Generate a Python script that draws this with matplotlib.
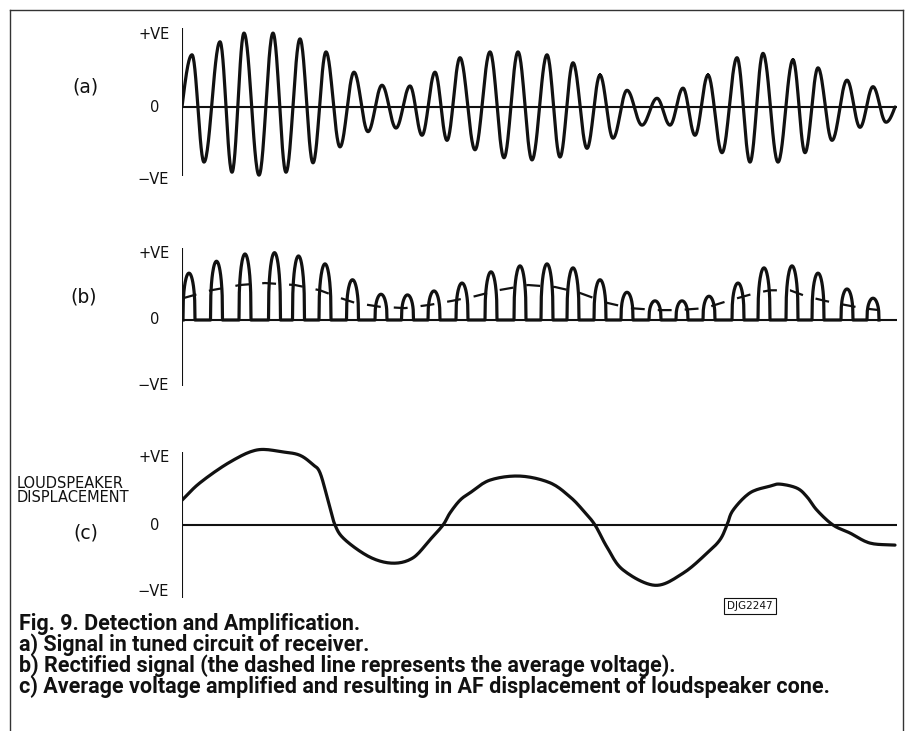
import numpy as np
import matplotlib
matplotlib.use("Agg")
import matplotlib.pyplot as plt
from matplotlib import font_manager
from matplotlib.lines import Line2D

W, H = 909, 731

# (a) signal in tuned circuit: times of the turning points and voltage (VE units)
a_time = [0, 10, 22, 38, 50, 62, 77, 91, 104, 118, 131, 144, 158, 172, 186, 200,
          214, 228, 240, 253, 265, 278, 293, 308, 322, 336, 350, 365, 378, 391,
          405, 418, 431, 445, 460, 475, 488, 501, 513, 526, 540, 555, 568, 581,
          596, 611, 623, 636, 650, 665, 678, 691, 704, 713]
a_volt = [0, 0.72, -0.76, 0.90, -0.90, 1.02, -0.94, 1.02, -0.90, 0.94, -0.77,
          0.76, -0.55, 0.48, -0.34, 0.30, -0.29, 0.29, -0.39, 0.48, -0.46, 0.68,
          -0.59, 0.76, -0.70, 0.76, -0.73, 0.72, -0.69, 0.61, -0.57, 0.44, -0.43,
          0.23, -0.25, 0.12, -0.25, 0.26, -0.39, 0.44, -0.63, 0.68, -0.76, 0.74,
          -0.76, 0.65, -0.63, 0.54, -0.46, 0.37, -0.28, 0.28, -0.21, 0]

# (b) rectified pulses: centre time and height
b_time = [7, 34.5, 63, 92.5, 116.5, 143, 170.5, 199, 225.5, 252, 280, 309, 338,
          365, 391, 418, 445, 473, 500, 527, 556, 582, 610, 636, 665, 691]
b_peak = [0.71, 0.89, 1.00, 1.02, 0.97, 0.85, 0.61, 0.39, 0.38, 0.44, 0.56, 0.73,
          0.82, 0.85, 0.79, 0.61, 0.42, 0.29, 0.29, 0.36, 0.56, 0.79, 0.82, 0.71,
          0.47, 0.33]

# (b) average voltage (dashed)
avg_time = [1, 29, 58, 83, 113, 138, 159, 173, 198, 223, 248, 270, 293, 316, 346,
            373, 396, 425, 448, 475, 496, 523, 546, 574, 588, 608, 624, 643, 659,
            680, 697]
avg_volt = [0.33, 0.45, 0.53, 0.56, 0.53, 0.45, 0.33, 0.26, 0.20, 0.18, 0.23, 0.29,
            0.36, 0.45, 0.53, 0.50, 0.42, 0.26, 0.18, 0.15, 0.15, 0.18, 0.29, 0.41,
            0.45, 0.45, 0.36, 0.29, 0.24, 0.18, 0.15]

# (c) loudspeaker displacement
c_time = [0, 18, 48, 75, 101, 118, 131, 138, 146, 153, 163, 188, 211, 231, 248,
          261, 268, 278, 288, 308, 338, 368, 388, 401, 413, 425, 441, 473, 501,
          525, 538, 545, 551, 568, 588, 598, 615, 625, 635, 651, 668, 688, 713]
c_disp = [0.37, 0.63, 0.94, 1.12, 1.09, 1.04, 0.90, 0.78, 0.37, 0.0, -0.22, -0.48,
          -0.57, -0.49, -0.22, 0.0, 0.18, 0.37, 0.48, 0.67, 0.73, 0.63, 0.42, 0.22,
          0.0, -0.33, -0.67, -0.90, -0.72, -0.42, -0.22, 0.0, 0.22, 0.48, 0.58,
          0.61, 0.55, 0.42, 0.22, 0.0, -0.12, -0.27, -0.30]

tick_vals = [1, 0, -1]
tick_text = ["+VE", "0", "\u2212VE"]
panel_tags = ["(a)", "(b)", "(c)"]
caption = [
    "Fig. 9. Detection and Amplification.",
    "a) Signal in tuned circuit of receiver.",
    "b) Rectified signal (the dashed line represents the average voltage).",
    "c) Average voltage amplified and resulting in AF displacement of loudspeaker cone.",
]

INK = "#111111"
LW = 2.3
LABEL_FONT = "DejaVu Sans"

names = {f.name for f in font_manager.fontManager.ttflist}
cap_font = "DejaVu Sans"
for cand in ["Roboto", "Liberation Sans", "Open Sans"]:
    if cand in names:
        cap_font = cand
        break

fig = plt.figure(figsize=(W / 100, H / 100), dpi=100)


def fx(px):
    return px / W


def fy(py):
    return 1 - py / H


def smooth(xs, ys, n=12):
    # Catmull-Rom rendering through the read points
    x = np.asarray(xs, float)
    y = np.asarray(ys, float)
    px = np.concatenate([[2 * x[0] - x[1]], x, [2 * x[-1] - x[-2]]])
    py = np.concatenate([[2 * y[0] - y[1]], y, [2 * y[-1] - y[-2]]])
    outx, outy = [], []
    s = np.linspace(0, 1, n, endpoint=False)
    for i in range(1, len(px) - 2):
        for arr, out in ((px, outx), (py, outy)):
            p0, p1, p2, p3 = arr[i - 1], arr[i], arr[i + 1], arr[i + 2]
            out.append(0.5 * (2 * p1 + (-p0 + p2) * s
                              + (2 * p0 - 5 * p1 + 4 * p2 - p3) * s ** 2
                              + (-p0 + 3 * p1 - 3 * p2 + p3) * s ** 3))
    outx.append([x[-1]])
    outy.append([y[-1]])
    return np.concatenate(outx), np.concatenate(outy)


def panel(zero_px, scale_px, axis_lo, axis_hi):
    ax = fig.add_axes([fx(182), fy(zero_px + 1.2 * scale_px),
                       (897 - 182) / W, 2.4 * scale_px / H])
    ax.set_xlim(0, 715)
    ax.set_ylim(-1.2, 1.2)
    ax.axis("off")
    ax.axhline(0, color=INK, lw=1.5)
    ax.vlines(0, axis_lo, axis_hi, color=INK, lw=1.5)
    offs = [-12, -27, -13]
    for v, t, o in zip(tick_vals, tick_text, offs):
        ax.annotate(t, xy=(0, v), xycoords=("axes fraction", "data"),
                    xytext=(o, 0), textcoords="offset pixels",
                    ha="center" if t == "0" else "right", va="center",
                    fontsize=10.5, family=LABEL_FONT, color=INK)
    return ax


# panel (a)
ax_a = panel(107, 72.5, -0.95, 1.09)
tt, vv = [], []
for i in range(len(a_time) - 1):
    t0, t1 = a_time[i], a_time[i + 1]
    v0, v1 = a_volt[i], a_volt[i + 1]
    s = np.linspace(0, 1, 30)
    if i == 0:
        seg = v1 * np.sin(np.pi / 2 * s)
    elif i == len(a_time) - 2:
        seg = v0 * np.cos(np.pi / 2 * s)
    else:
        seg = v0 + (v1 - v0) * (1 - np.cos(np.pi * s)) / 2
    tt.append(t0 + (t1 - t0) * s)
    vv.append(seg)
ax_a.plot(np.concatenate(tt), np.concatenate(vv), color=INK, lw=LW,
          solid_joinstyle="round", solid_capstyle="round")

# panel (b)
ax_b = panel(320, 66, -1.0, 1.09)
pulse_w = 12
tt, vv = [], []
for c, h in zip(b_time, b_peak):
    s = np.linspace(0, 1, 40)
    tt.append(c - pulse_w / 2 + pulse_w * s)
    vv.append(h * np.sin(np.pi * s) ** 0.35)
ax_b.plot(np.concatenate(tt), np.concatenate(vv), color=INK, lw=LW,
          solid_joinstyle="round")
dash_lw = 1.6
ax_b.plot(avg_time, avg_volt, color=INK, lw=dash_lw,
          linestyle=(0, (10 / dash_lw, 9.4 / dash_lw)))

# panel (c)
ax_c = panel(525, 67, -1.09, 1.09)
sx, sy = smooth(c_time, c_disp)
ax_c.plot(sx, sy, color=INK, lw=LW, solid_joinstyle="round",
          solid_capstyle="round")

for tag, (px, py) in zip(panel_tags, [(85, 87), (84, 297), (86, 533)]):
    fig.text(fx(px), fy(py), tag, ha="center", va="center", fontsize=13.5,
             family=LABEL_FONT, color=INK)

fig.text(fx(17), fy(483), "LOUDSPEAKER", ha="left", va="center", fontsize=10.5,
         family=LABEL_FONT, color=INK)
fig.text(fx(17), fy(498), "DISPLACEMENT", ha="left", va="center", fontsize=10.5,
         family=LABEL_FONT, color=INK)

# drawing reference box
fig.text(fx(750), fy(606), "DJG2247", ha="center", va="center", fontsize=7.5,
         family=LABEL_FONT, color=INK,
         bbox=dict(boxstyle="square,pad=0.3", fc="white", ec=INK, lw=0.8))

# border
for xs, ys in [([10, 10], [10, 731]), ([10, 903], [10, 10]), ([903, 903], [10, 731])]:
    fig.add_artist(Line2D([fx(x) for x in xs], [fy(y) for y in ys],
                          color="#333333", lw=1.0))

cap_texts = []
for line, base in zip(caption, [630, 651, 672, 693]):
    cap_texts.append(fig.text(fx(19), fy(base), line, ha="left", va="baseline",
                              fontsize=14, fontweight="bold", family=cap_font,
                              color=INK))

fig.canvas.draw()
width = cap_texts[-1].get_window_extent(fig.canvas.get_renderer()).width
size = min(15.5, 14 * (832 - 19) / width)
for t in cap_texts:
    t.set_fontsize(size)

fig.savefig("out.png", dpi=100)
